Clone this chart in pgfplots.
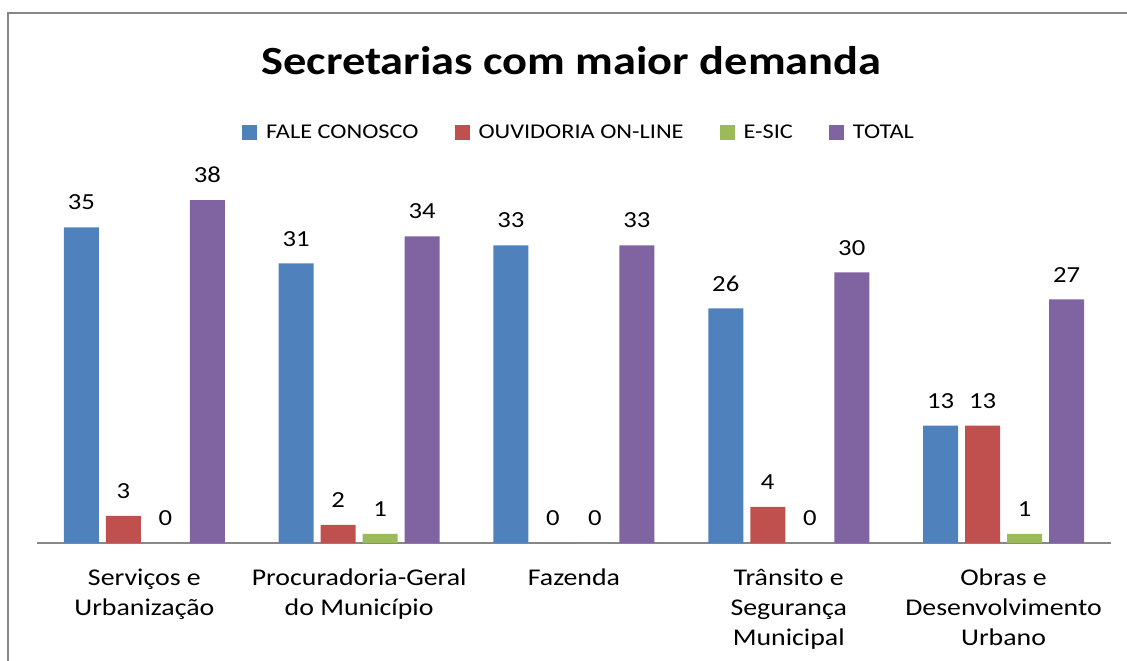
\documentclass[border=0pt]{standalone}
\usepackage{fontspec}
\setmainfont{Carlito}[FakeStretch=1.16]
\usepackage{pgfplots}
\pgfplotsset{compat=1.18}
\definecolor{fale}{HTML}{4F81BD}
\definecolor{ouvid}{HTML}{C0504D}
\definecolor{esic}{HTML}{9BBB59}
\definecolor{total}{HTML}{8064A2}
\definecolor{framegray}{HTML}{878787}
\newcommand{\ticksz}{\fontsize{24bp}{30bp}\selectfont}
\newcommand{\lblsz}{\fontsize{23bp}{26bp}\selectfont}
\newcommand{\legsz}{\fontsize{21bp}{25bp}\selectfont}
\begin{document}
\begin{tikzpicture}
\useasboundingbox (0,0) rectangle (1127bp,661bp);
\draw[framegray, line width=1.3bp] (8bp,0) -- (8bp,648bp) -- (1127bp,648bp);
\node[font=\fontsize{40bp}{46bp}\selectfont\bfseries, anchor=base, inner sep=0pt]
  at (571.5bp,586bp) {Secretarias com maior demanda};
\begin{axis}[
  at={(37bp,118bp)}, anchor=south west,
  scale only axis, width=1074bp, height=360.8bp,
  xmin=-0.5, xmax=4.5, ymin=0, ymax=40,
  ybar=7bp, bar width=35bp,
  axis x line*=bottom, axis y line=none,
  x axis line style={draw=framegray, line width=1.3bp},
  xtick={0,1,2,3,4}, major tick length=0pt,
  xticklabels={{Serviços e\\Urbanização},{Procuradoria-Geral\\do Município},{Fazenda},{Trânsito e\\Segurança\\Municipal},{Obras e\\Desenvolvimento\\Urbano}},
  xticklabel style={font=\ticksz, align=center, anchor=north, inner sep=0pt, yshift=-26bp},
  clip=false,
  /pgf/number format/assume math mode=true,
  nodes near coords,
  nodes near coords style={font=\lblsz, anchor=south, inner sep=0pt, yshift=17bp},
  legend columns=4,
  legend style={at={(0.5047,1.139)}, anchor=center, draw=none, font=\legsz,
    /tikz/every even column/.append style={column sep=34bp}},
  legend image code/.code={\fill[#1] (0bp,-7.5bp) rectangle (15bp,7.5bp);
    \path (22bp,0bp);},
]
\addplot[fill=fale, draw=none] coordinates {(0,35) (1,31) (2,33) (3,26) (4,13)};
\addplot[fill=ouvid, draw=none] coordinates {(0,3) (1,2) (2,0) (3,4) (4,13)};
\addplot[fill=esic, draw=none] coordinates {(0,0) (1,1) (2,0) (3,0) (4,1)};
\addplot[fill=total, draw=none] coordinates {(0,38) (1,34) (2,33) (3,30) (4,27)};
\legend{FALE CONOSCO, OUVIDORIA ON-LINE, E-SIC, TOTAL}
\end{axis}
\end{tikzpicture}
\end{document}
